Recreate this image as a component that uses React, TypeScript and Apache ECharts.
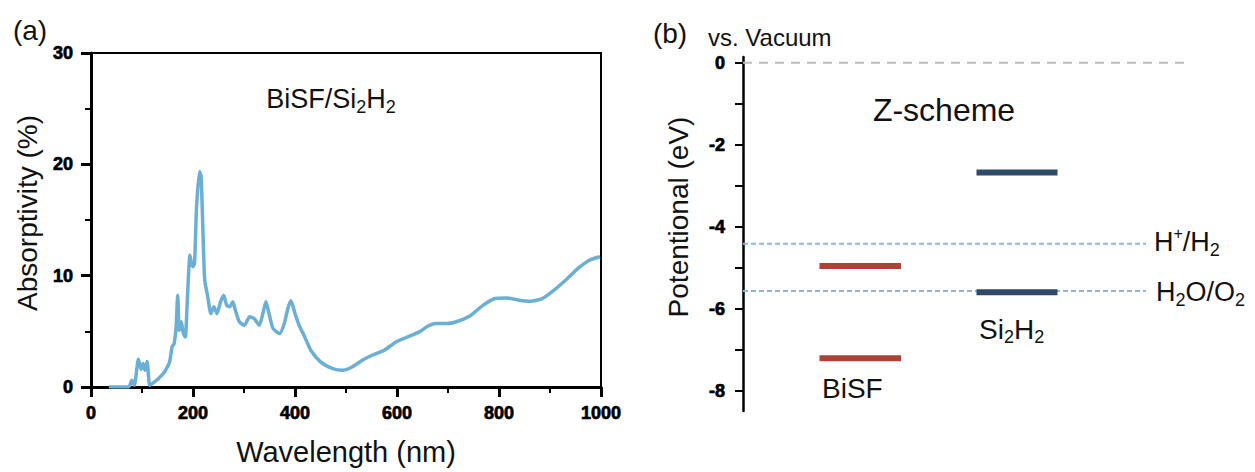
import React, { useEffect, useRef } from "react";
import * as echarts from "echarts";

// ---------- Panel (a): absorption spectrum ----------
const wavelength = [35, 74, 80, 85, 93, 98, 102, 106, 110, 115, 120, 132, 144, 154, 159, 163, 167, 170, 173, 177, 181, 185, 188, 191, 194, 197, 200, 203, 207, 213, 216, 220, 223, 229, 235, 241, 247, 254, 260, 266, 272, 278, 283, 291, 301, 311, 320, 330, 337, 343, 349, 357, 370, 379, 386, 392, 400, 408, 419, 431, 450, 474, 493, 512, 532, 551, 575, 598, 621, 644, 660, 675, 699, 722, 745, 769, 792, 815, 839, 862, 885, 908, 932, 955, 978, 998];
const absorptivity = [0, 0, 0.6, 0.15, 2.5, 1.6, 2.1, 1.5, 2.3, 0.15, 0.3, 0.75, 1.35, 2.25, 3.6, 3.9, 5.5, 8.25, 5.1, 5.85, 4.8, 4.5, 6.9, 9.9, 11.85, 11.1, 10.8, 11.1, 16.2, 19.35, 18.9, 13.2, 9.6, 8.1, 6.6, 7.2, 6.6, 7.65, 8.25, 7.35, 7.2, 7.65, 6.9, 5.85, 5.55, 6.3, 6.15, 5.55, 6.6, 7.65, 6.6, 5.25, 4.8, 5.7, 7.05, 7.75, 6.6, 5.55, 4.5, 3.3, 2.25, 1.65, 1.5, 1.8, 2.4, 2.85, 3.3, 4.05, 4.5, 4.95, 5.45, 5.7, 5.7, 5.95, 6.45, 7.35, 7.95, 8.0, 7.8, 7.7, 7.95, 8.7, 9.65, 10.65, 11.4, 11.7];
const xTicksA = [0, 200, 400, 600, 800, 1000];
const yTicksA = [0, 10, 20, 30];

// ---------- Panel (b): band edges vs. vacuum (eV) ----------
const bisfLevels = [-4.96, -7.21]; // CB, VB
const si2h2Levels = [-2.68, -5.6]; // CB, VB
const vacuumLevel = 0;
const hPlusH2 = -4.42;
const h2oO2 = -5.57;
const yTickValuesB = [0, -1, -2, -3, -4, -5, -6, -7, -8];
const yLabelValuesB = [0, -2, -4, -6, -8];

// horizontal extents (layout, hidden x axis 0..100)
const BISF_SPAN = [15.3, 31.6];
const SI2H2_SPAN = [46.7, 62.9];
const REDOX_SPAN = [0, 80.6];
const VAC_SPAN = [0, 89.2];

const FONT = "'Liberation Sans', Arial, Helvetica, sans-serif";
const TICKFONT = "'Liberation Sans', Arial, sans-serif";

const levelSeries = (levels: number[], span: number[], color: string) =>
  levels.map((v) => ({
    type: "line",
    xAxisIndex: 1,
    yAxisIndex: 1,
    symbol: "none",
    silent: true,
    data: [
      [span[0], v],
      [span[1], v],
    ],
    lineStyle: { color, width: 6, cap: "butt" },
  }));

const dashedSeries = (v: number, span: number[], color: string, width: number, dash: number[]) => ({
  type: "line",
  xAxisIndex: 1,
  yAxisIndex: 1,
  symbol: "none",
  silent: true,
  data: [
    [span[0], v],
    [span[1], v],
  ],
  lineStyle: { color, width, type: dash },
});

const rich = (size: number) => ({
  m: { fontSize: size, fontFamily: FONT, fill: "#111", lineHeight: size + 6 },
  s: { fontSize: Math.round(size * 0.66), fontFamily: FONT, fill: "#111", verticalAlign: "bottom", lineHeight: Math.round(size * 0.66) },
  p: { fontSize: Math.round(size * 0.6), fontFamily: FONT, fill: "#111", verticalAlign: "top", lineHeight: Math.round(size * 0.6) },
});

const label = (text: string, x: number, y: number, size: number, align = "left", rotation = 0) => ({
  type: "text",
  x,
  y,
  rotation,
  silent: true,
  style: { text, fontSize: size, fontFamily: FONT, fill: "#111", align, verticalAlign: "middle", rich: rich(size) },
});

export default function App() {
  const ref = useRef<HTMLDivElement>(null);
  useEffect(() => {
    if (!ref.current) return;
    const chart = echarts.init(ref.current, undefined, { renderer: "svg" });
    const tickLabel = {
      fontSize: 18,
      fontWeight: 700,
      color: "#000",
      fontFamily: TICKFONT,
      textBorderColor: "#000",
      textBorderWidth: 0.7,
      formatter: (v: number) => String(v),
    };
    chart.setOption({
      animation: false,
      backgroundColor: "#fff",
      grid: [
        { left: 91, top: 53, width: 510, height: 334, show: true, borderColor: "#000", borderWidth: 2, backgroundColor: "transparent" },
        { left: 743, top: 57, width: 500, height: 354 },
      ],
      xAxis: [
        {
          gridIndex: 0,
          type: "value",
          min: xTicksA[0],
          max: xTicksA[xTicksA.length - 1],
          interval: 200,
          axisLine: { show: true, lineStyle: { color: "#000", width: 3 } },
          axisTick: { show: true, length: 10, lineStyle: { color: "#000", width: 3 } },
          minorTick: { show: true, splitNumber: 2, length: 6, lineStyle: { color: "#000", width: 2 } },
          splitLine: { show: false },
          axisLabel: { ...tickLabel, margin: 17 },
          name: "Wavelength (nm)",
          nameLocation: "middle",
          nameGap: 50,
          nameTextStyle: { fontSize: 29, fontFamily: FONT, color: "#111" },
        },
        { gridIndex: 1, type: "value", min: 0, max: 100, show: false },
      ],
      yAxis: [
        {
          gridIndex: 0,
          type: "value",
          min: yTicksA[0],
          max: yTicksA[yTicksA.length - 1],
          interval: 10,
          axisLine: { show: true, lineStyle: { color: "#000", width: 3 } },
          axisTick: { show: true, length: 10, lineStyle: { color: "#000", width: 3 } },
          minorTick: { show: true, splitNumber: 2, length: 6, lineStyle: { color: "#000", width: 2 } },
          splitLine: { show: false },
          axisLabel: { ...tickLabel, margin: 18 },
        },
        {
          gridIndex: 1,
          type: "value",
          min: -8.5,
          max: 0.14,
          axisLine: { show: true, lineStyle: { color: "#000", width: 2.5 } },
          axisTick: { show: true, length: 8, customValues: yTickValuesB, lineStyle: { color: "#000", width: 2 } },
          axisLabel: { ...tickLabel, margin: 18, customValues: yLabelValuesB },
          splitLine: { show: false },
        },
      ],
      series: [
        {
          type: "line",
          xAxisIndex: 0,
          yAxisIndex: 0,
          symbol: "none",
          smooth: 0.2,
          data: wavelength.map((w, i) => [w, absorptivity[i]]),
          lineStyle: { color: "#6baed6", width: 3.5 },
        },
        dashedSeries(vacuumLevel, VAC_SPAN, "#bdbdbd", 2, [9, 7]),
        dashedSeries(hPlusH2, REDOX_SPAN, "#84bbe3", 2, [5, 3]),
        dashedSeries(h2oO2, REDOX_SPAN, "#84bbe3", 2, [5, 3]),
        ...levelSeries(bisfLevels, BISF_SPAN, "#ad4237"),
        ...levelSeries(si2h2Levels, SI2H2_SPAN, "#2f4966"),
      ],
      graphic: [
        label("Absorptivity (%)", 27, 213, 28, "center", Math.PI / 2),
        label("Potentional (eV)", 678, 217, 28, "center", Math.PI / 2),
        label("(a)", 30, 30, 28, "center"),
        label("(b)", 670, 33, 28, "center"),
        label("vs. Vacuum", 708, 37, 24),
        label("Z-scheme", 944, 110, 32, "center"),
        label("{m|BiSF/Si}{s|2}{m|H}{s|2}", 331, 99, 27, "center"),
        label("{m|H}{p|+}{m|/H}{s|2}", 1154, 242, 27),
        label("{m|H}{s|2}{m|O/O}{s|2}", 1156, 292, 27),
        label("{m|Si}{s|2}{m|H}{s|2}", 979, 329, 28),
        label("BiSF", 822, 388, 28),
      ],
    });
    return () => chart.dispose();
  }, []);
  return <div ref={ref} style={{ position: "fixed", left: 0, top: 0, width: 1255, height: 472 }} />;
}
